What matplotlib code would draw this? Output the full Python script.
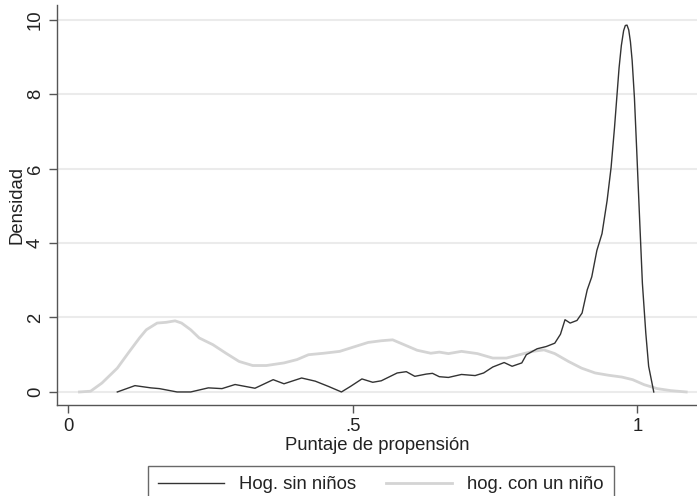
import matplotlib
matplotlib.use("Agg")
import matplotlib.pyplot as plt

# propensity score density, households without children (dark line)
x_sin = [0.086, 0.117, 0.145, 0.16, 0.191, 0.215, 0.246, 0.27, 0.293, 0.328,
         0.36, 0.379, 0.41, 0.434, 0.457, 0.48, 0.496, 0.516, 0.535, 0.55,
         0.578, 0.594, 0.609, 0.629, 0.64, 0.652, 0.668, 0.691, 0.715, 0.73,
         0.746, 0.766, 0.78, 0.797, 0.805, 0.824, 0.84, 0.855, 0.865, 0.873,
         0.882, 0.894, 0.903, 0.912, 0.920, 0.929, 0.938, 0.947, 0.954, 0.96,
         0.964, 0.968, 0.972, 0.976, 0.979, 0.982, 0.985, 0.988, 0.991, 0.995,
         0.999, 1.004, 1.009, 1.015, 1.02, 1.029]
y_sin = [0.0, 0.17, 0.11, 0.09, 0.0, 0.0, 0.11, 0.09, 0.2, 0.1,
         0.33, 0.22, 0.375, 0.29, 0.15, 0.0, 0.15, 0.35, 0.26, 0.3,
         0.51, 0.545, 0.42, 0.48, 0.5, 0.41, 0.39, 0.47, 0.44, 0.51,
         0.67, 0.79, 0.69, 0.78, 1.0, 1.16, 1.22, 1.31, 1.55, 1.94,
         1.85, 1.92, 2.12, 2.74, 3.09, 3.8, 4.25, 5.14, 6.03, 7.1,
         7.9, 8.7, 9.3, 9.7, 9.84, 9.85, 9.72, 9.4, 8.9, 7.9,
         6.5, 4.69, 2.92, 1.58, 0.69, 0.0]

# households with one child (light grey line)
x_con = [0.0195, 0.039, 0.059, 0.086, 0.105, 0.125, 0.137, 0.156, 0.172, 0.1875,
         0.199, 0.215, 0.23, 0.254, 0.277, 0.3, 0.324, 0.348, 0.379, 0.402,
         0.422, 0.449, 0.477, 0.504, 0.527, 0.55, 0.57, 0.59, 0.613, 0.637,
         0.652, 0.668, 0.691, 0.719, 0.746, 0.77, 0.793, 0.816, 0.836, 0.855,
         0.879, 0.902, 0.926, 0.949, 0.973, 0.992, 1.012, 1.035, 1.059, 1.086]
y_con = [0.0, 0.02, 0.24, 0.64, 1.04, 1.45, 1.67, 1.85, 1.87, 1.91,
         1.85, 1.67, 1.45, 1.27, 1.04, 0.82, 0.71, 0.71, 0.78, 0.87,
         1.0, 1.04, 1.09, 1.22, 1.33, 1.375, 1.40, 1.27, 1.12, 1.04,
         1.07, 1.03, 1.09, 1.03, 0.91, 0.91, 1.0, 1.09, 1.13, 1.03,
         0.82, 0.64, 0.51, 0.45, 0.40, 0.33, 0.196, 0.09, 0.036, 0.0]

x_ticks = [0, 0.5, 1]
x_ticklabels = ["0", ".5", "1"]
y_ticks = [0, 2, 4, 6, 8, 10]
labels = ["Hog. sin niños", "hog. con un niño"]

plt.rcParams["font.family"] = ["Liberation Sans", "DejaVu Sans"]
fs = 13.3

fig = plt.figure(figsize=(6.97, 4.96), dpi=100)
ax = fig.add_axes([57 / 697, 91 / 496, 1 - 57 / 697, 400 / 496])

ax.plot(x_sin, y_sin, color="#333333", linewidth=1.0, label=labels[0], zorder=3)
ax.plot(x_con, y_con, color="#d4d4d4", linewidth=2.0, label=labels[1], zorder=2)

ax.set_xlim(-0.02, 1.105)
ax.set_ylim(-0.35, 10.39)
ax.set_xticks(x_ticks)
ax.set_xticklabels(x_ticklabels)
ax.set_yticks(y_ticks)
ax.tick_params(axis="both", labelsize=fs, colors="#222222", length=6,
               width=1.0, direction="out")
ax.tick_params(axis="both", color="#555555")
for lbl in ax.get_yticklabels():
    lbl.set_rotation(90)
    lbl.set_va("center")

ax.grid(axis="y", color="#ebebeb", linewidth=1.5)
ax.set_axisbelow(True)
for side in ("top", "right"):
    ax.spines[side].set_visible(False)
for side in ("left", "bottom"):
    ax.spines[side].set_color("#555555")
    ax.spines[side].set_linewidth(1.0)

ax.set_xlabel("Puntaje de propensión", fontsize=fs, color="#222222", labelpad=1)
ax.set_ylabel("Densidad", fontsize=fs, color="#222222", labelpad=1)

leg = fig.legend(loc="upper center", bbox_to_anchor=(0.546, 1 - 466 / 496),
                 ncol=2, fontsize=fs, frameon=True, fancybox=False,
                 handlelength=3.6, handletextpad=0.8, columnspacing=1.6,
                 borderpad=0.55, borderaxespad=0)
leg.get_frame().set_edgecolor("#444444")
leg.get_frame().set_linewidth(1.0)
for t in leg.get_texts():
    t.set_color("#222222")

fig.savefig("out.png", dpi=100)
